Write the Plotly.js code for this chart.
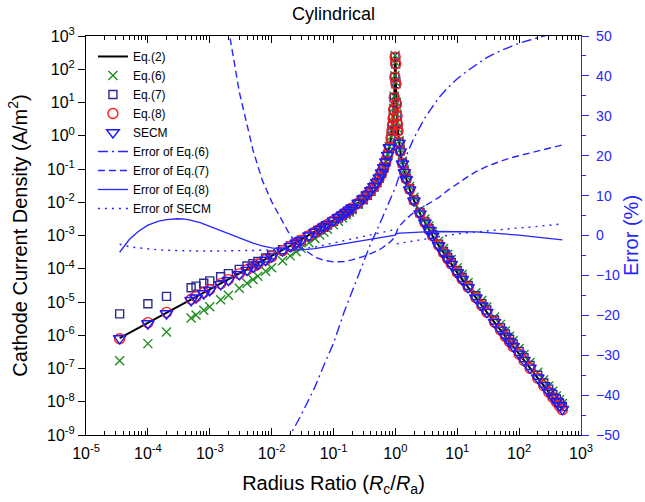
<!DOCTYPE html>
<html>
<head>
<meta charset="utf-8">
<script src="https://cdn.plot.ly/plotly-3.0.1.min.js"></script>
<style>html,body{margin:0;padding:0;background:#fff;}#chart{width:645px;height:502px;}</style>
</head>
<body>
<div id="chart"></div>
<script>
// Radius ratio samples (left branch x<1, right branch x>1)
const xRatio = [3.5e-5,1e-4,2e-4,5e-4,6e-4,8e-4,1e-3,1.5e-3,2e-3,3e-3,4e-3,5e-3,6e-3,8e-3,0.01,0.015,0.02,0.025,0.03,0.04,0.05,0.06,0.07,0.08,0.1,0.12,0.14,0.16,0.18,0.2,0.25,0.3,0.35,0.4,0.45,0.5,0.55,0.6,0.65,0.7,0.75,0.8,0.85,0.88,0.9,0.92,0.94,0.96,0.98,0.99,
  1.01,1.02,1.04,1.06,1.08,1.1,1.15,1.2,1.3,1.4,1.5,1.7,2,2.5,3,3.5,4,5,6,7,8,10,12,15,20,25,30,40,50,60,70,80,100,120,150,200,250,300,350,400,450,500];

// Eq.(2) exact solution
const yEq2 = [8.2e-7,2.34e-6,4.68e-6,1.17e-5,1.40e-5,1.87e-5,2.34e-5,3.52e-5,4.70e-5,7.06e-5,9.43e-5,1.18e-4,1.42e-4,1.90e-4,2.39e-4,3.62e-4,4.87e-4,6.15e-4,7.46e-4,1.02e-3,1.30e-3,1.59e-3,1.89e-3,2.21e-3,2.86e-3,3.55e-3,4.30e-3,5.10e-3,5.95e-3,6.9e-3,9.6e-3,0.0128,0.0170,0.0225,0.030,0.040,0.055,0.077,0.110,0.165,0.26,0.44,0.85,1.40,2.1,3.36,6.1,14.0,57.3,232,
  145,36.2,9.0,3.97,2.22,1.41,0.615,0.341,0.147,0.0805,0.0502,0.0244,0.01127,4.61e-3,2.43e-3,1.47e-3,9.7e-4,5.02e-4,3.0e-4,1.97e-4,1.38e-4,7.67e-5,4.8e-5,2.73e-5,1.33e-5,7.67e-6,4.91e-6,2.44e-6,1.43e-6,9.17e-7,6.33e-7,4.6e-7,2.70e-7,1.75e-7,1.02e-7,5.15e-8,3.03e-8,1.97e-8,1.36e-8,9.9e-9,7.5e-9,5.85e-9];

// Eq.(6)
const yEq6 = [1.72e-7,5.6e-7,1.26e-6,3.28e-6,4.06e-6,5.61e-6,7.25e-6,1.16e-5,1.60e-5,2.61e-5,3.68e-5,4.72e-5,5.96e-5,8.36e-5,1.08e-4,1.74e-4,2.44e-4,3.26e-4,4.10e-4,6.02e-4,8.06e-4,1.03e-3,1.28e-3,1.55e-3,2.09e-3,2.70e-3,3.38e-3,4.18e-3,5.0e-3,5.93e-3,8.69e-3,0.01197,0.01632,0.02205,0.02985,0.0405,0.0565,0.0801,0.1157,0.1754,0.279,0.476,0.927,1.534,2.31,3.71,6.75,15.5,63.9,259,
  163,40.7,10.15,4.49,2.52,1.61,0.707,0.395,0.172,0.0954,0.0602,0.0298,0.01403,5.85e-3,3.15e-3,1.93e-3,1.28e-3,6.75e-4,4.07e-4,2.70e-4,1.90e-4,1.07e-4,6.74e-5,3.87e-5,1.91e-5,1.107e-5,7.12e-6,3.56e-6,2.10e-6,1.35e-6,9.34e-7,6.81e-7,4.01e-7,2.61e-7,1.52e-7,7.73e-8,4.56e-8,2.97e-8,2.06e-8,1.50e-8,1.14e-8,8.92e-9];

// Eq.(7)
const yEq7 = [4.40e-6,8.89e-6,1.48e-5,2.69e-5,3.01e-5,3.65e-5,4.33e-5,5.77e-5,7.14e-5,9.60e-5,1.207e-4,1.43e-4,1.66e-4,2.11e-4,2.59e-4,3.75e-4,4.87e-4,6.06e-4,7.24e-4,9.74e-4,1.23e-3,1.49e-3,1.77e-3,2.07e-3,2.67e-3,3.32e-3,4.02e-3,4.77e-3,5.58e-3,6.48e-3,9.05e-3,0.01212,0.01615,0.02147,0.02874,0.03844,0.0531,0.0745,0.1068,0.1609,0.2543,0.432,0.838,1.383,2.08,3.33,6.06,13.93,57.1,231.5,
  145.7,36.45,9.08,4.01,2.25,1.435,0.629,0.350,0.1519,0.0836,0.0523,0.0256,0.01192,4.91e-3,2.61e-3,1.59e-3,1.052e-3,5.50e-4,3.30e-4,2.19e-4,1.546e-4,8.67e-5,5.46e-5,3.13e-5,1.543e-5,8.95e-6,5.76e-6,2.88e-6,1.696e-6,1.091e-6,7.56e-7,5.50e-7,3.24e-7,2.107e-7,1.231e-7,6.24e-8,3.68e-8,2.40e-8,1.66e-8,1.211e-8,9.19e-9,7.18e-9];

// Eq.(8)
const yEq8 = [7.86e-7,2.40e-6,4.87e-6,1.21e-5,1.45e-5,1.93e-5,2.39e-5,3.56e-5,4.72e-5,7.01e-5,9.30e-5,1.158e-4,1.387e-4,1.847e-4,2.316e-4,3.50e-4,4.69e-4,5.93e-4,7.19e-4,9.84e-4,1.257e-3,1.541e-3,1.835e-3,2.148e-3,2.79e-3,3.47e-3,4.21e-3,5.0e-3,5.84e-3,6.79e-3,9.48e-3,0.01266,0.01683,0.02232,0.02979,0.03976,0.05473,0.0767,0.1097,0.1646,0.2595,0.4396,0.85,1.40,2.1,3.36,6.1,14.0,57.3,232,
  145.7,36.4,9.04,3.99,2.23,1.418,0.619,0.343,0.148,0.0811,0.0506,0.0246,0.01136,4.65e-3,2.452e-3,1.484e-3,9.8e-4,5.07e-4,3.03e-4,1.99e-4,1.394e-4,7.75e-5,4.85e-5,2.76e-5,1.342e-5,7.73e-6,4.94e-6,2.45e-6,1.437e-6,9.2e-7,6.34e-7,4.6e-7,2.70e-7,1.746e-7,1.018e-7,5.13e-8,3.01e-8,1.956e-8,1.35e-8,9.8e-9,7.42e-9,5.79e-9];

// SECM (no samples very close to the singularity)
const xSECM = [3.5e-5,1e-4,2e-4,5e-4,6e-4,8e-4,1e-3,1.5e-3,2e-3,3e-3,4e-3,5e-3,6e-3,8e-3,0.01,0.015,0.02,0.025,0.03,0.04,0.05,0.06,0.07,0.08,0.1,0.12,0.14,0.16,0.18,0.2,0.25,0.3,0.35,0.4,0.45,0.5,0.55,0.6,0.65,0.7,0.75,0.8,
  1.15,1.2,1.3,1.4,1.5,1.7,2,2.5,3,3.5,4,5,6,7,8,10,12,15,20,25,30,40,50,60,70,80,100,120,150,200,250,300,350,400,450,500];
const ySECM = [8.02e-7,2.26e-6,4.51e-6,1.124e-5,1.345e-5,1.797e-5,2.249e-5,3.38e-5,4.52e-5,6.78e-5,9.07e-5,1.135e-4,1.366e-4,1.829e-4,2.30e-4,3.49e-4,4.70e-4,5.94e-4,7.21e-4,9.87e-4,1.262e-3,1.545e-3,1.84e-3,2.155e-3,2.80e-3,3.48e-3,4.22e-3,5.01e-3,5.88e-3,6.82e-3,9.5e-3,0.01271,0.01692,0.02245,0.02997,0.0400,0.0551,0.0772,0.1104,0.166,0.2615,0.4430,
  0.602,0.334,0.1441,0.0790,0.0493,0.0240,0.01112,4.56e-3,2.41e-3,1.459e-3,9.64e-4,5.0e-4,2.995e-4,1.968e-4,1.38e-4,7.70e-5,4.82e-5,2.75e-5,1.342e-5,7.75e-6,4.97e-6,2.476e-6,1.451e-6,9.32e-7,6.44e-7,4.68e-7,2.75e-7,1.785e-7,1.042e-7,5.27e-8,3.10e-8,2.018e-8,1.394e-8,1.015e-8,7.70e-9,6.02e-9];

// Relative errors (%)
const xErr = [3.5e-5,5e-5,7e-5,1e-4,1.5e-4,2e-4,3e-4,4e-4,5e-4,7e-4,1e-3,1.5e-3,2e-3,3e-3,5e-3,7e-3,0.01,0.015,0.02,0.03,0.05,0.07,0.1,0.15,0.2,0.3,0.4,0.5,0.6,0.7,0.8,0.9,0.95,0.99,
  1.01,1.05,1.1,1.2,1.5,2,3,5,7,10,15,20,30,50,70,100,150,200,300,500];
const errEq6 = [-79,-78,-77,-76,-74.5,-73,-72,-71.5,-71,-70,-68,-66.5,-65,-63,-60,-57.5,-55,-52,-50,-45,-38,-32.5,-27,-19,-14,-6.5,-2,1.2,4,6.3,8.2,10,11,11.8,
  12.2,13,14,15.8,20,24.5,29.5,34.5,37,39.3,41.4,42.8,44.6,46.3,47.3,48.2,49.0,49.5,50.2,51.3];
const errEq7 = [437,400,340,280,240,216,180,155,130,105,85,64,52,36,21.4,14,8.5,3.5,0,-3,-5.4,-6.2,-6.6,-6.5,-6.1,-5.3,-4.6,-3.9,-3.2,-2.5,-1.8,-1.0,-0.6,-0.2,
  0.2,1.2,1.8,2.6,4.2,5.8,7.4,9.5,11.3,13,14.8,16,17.3,18.6,19.4,20,20.7,21.1,21.8,22.7];
const errEq8 = [-4.2,-1.0,1.0,2.6,3.6,4.0,4.2,4.1,3.8,3.2,2.3,1.2,0.4,-0.7,-1.9,-2.6,-3.1,-3.4,-3.6,-3.6,-3.3,-2.9,-2.5,-2.0,-1.6,-1.1,-0.8,-0.6,-0.4,-0.25,-0.1,0.0,0.05,0.1,
  0.4,0.5,0.55,0.6,0.7,0.8,0.9,1.0,1.0,1.0,0.95,0.9,0.7,0.5,0.3,0.1,-0.2,-0.4,-0.7,-1.1];
const errSECM = [-2.2,-2.8,-3.1,-3.4,-3.6,-3.7,-3.8,-3.85,-3.9,-3.9,-3.9,-3.9,-3.85,-3.8,-3.75,-3.7,-3.6,-3.5,-3.45,-3.3,-2.9,-2.4,-1.8,-1.3,-0.9,-0.3,0.1,0.4,0.7,0.9,1.1,1.3,1.4,1.5,
  null,-2.1,-2.0,-1.9,-1.7,-1.3,-0.9,-0.3,0.1,0.4,0.7,0.9,1.2,1.5,1.7,1.9,2.1,2.3,2.6,2.9];

// Tick labels
const xTickVals = [1e-5,1e-4,1e-3,1e-2,1e-1,1,10,100,1000];
const xTickText = ['10<sup>-5</sup>','10<sup>-4</sup>','10<sup>-3</sup>','10<sup>-2</sup>','10<sup>-1</sup>','10<sup>0</sup>','10<sup>1</sup>','10<sup>2</sup>','10<sup>3</sup>'];
const yTickVals = [1e-9,1e-8,1e-7,1e-6,1e-5,1e-4,1e-3,1e-2,1e-1,1,10,100,1000];
const yTickText = ['10<sup>-9</sup>','10<sup>-8</sup>','10<sup>-7</sup>','10<sup>-6</sup>','10<sup>-5</sup>','10<sup>-4</sup>','10<sup>-3</sup>','10<sup>-2</sup>','10<sup>-1</sup>','10<sup>0</sup>','10<sup>1</sup>','10<sup>2</sup>','10<sup>3</sup>'];

const FONT = 'Liberation Sans, Arial, Helvetica, sans-serif';
const BLUE = '#2626ff';

const traces = [
  {x: xRatio, y: yEq2, name: 'Eq.(2)', mode: 'lines', line: {color: '#000', width: 2}},
  {x: xRatio, y: yEq6, name: 'Eq.(6)', mode: 'markers', marker: {symbol: 'x-thin-open', size: 9, color: '#1e8c1e', line: {color: '#1e8c1e', width: 1.4}}},
  {x: xRatio, y: yEq7, name: 'Eq.(7)', mode: 'markers', marker: {symbol: 'square-open', size: 8, color: '#2b2b8f', line: {color: '#2b2b8f', width: 1.4}}},
  {x: xRatio, y: yEq8, name: 'Eq.(8)', mode: 'markers', marker: {symbol: 'circle-open', size: 10, color: '#ff1a1a', line: {color: '#ff1a1a', width: 1.4}}},
  {x: xSECM, y: ySECM, name: 'SECM', mode: 'markers', marker: {symbol: 'triangle-down-open', size: 11, color: '#1a1aff', line: {color: '#1a1aff', width: 1.4}}},
  {x: xErr, y: errEq6, name: 'Error of Eq.(6)', mode: 'lines', yaxis: 'y2', line: {color: BLUE, width: 1.4, dash: '10px,4px,2px,4px'}},
  {x: xErr, y: errEq7, name: 'Error of Eq.(7)', mode: 'lines', yaxis: 'y2', line: {color: BLUE, width: 1.4, dash: '7px,4px'}},
  {x: xErr, y: errEq8, name: 'Error of Eq.(8)', mode: 'lines', yaxis: 'y2', line: {color: BLUE, width: 1.3}},
  {x: xErr, y: errSECM, name: 'Error of SECM', mode: 'lines', yaxis: 'y2', line: {color: BLUE, width: 1.4, dash: '2px,5px'}}
];

const layout = {
  width: 645, height: 502,
  margin: {l: 86, r: 64, t: 36, b: 67},
  paper_bgcolor: '#fff', plot_bgcolor: '#fff',
  font: {family: FONT, size: 13, color: '#000'},
  title: {text: 'Cylindrical', font: {family: FONT, size: 18, color: '#000'}, x: 0.517, xanchor: 'center', y: 0.972, yanchor: 'middle', yref: 'container'},
  showlegend: true,
  legend: {x: 0.014, y: 0.985, xanchor: 'left', yanchor: 'top', bgcolor: 'rgba(0,0,0,0)', font: {family: FONT, size: 12, color: '#000'}, itemwidth: 30, tracegroupgap: 0},
  xaxis: {
    type: 'log', range: [-5, 3], tickmode: 'array', tickvals: xTickVals, ticktext: xTickText,
    showline: true, linecolor: '#000', linewidth: 1, mirror: 'ticks',
    ticks: 'inside', ticklen: 7, tickcolor: '#000', showgrid: false, zeroline: false,
    minor: {ticks: 'inside', ticklen: 4, tickcolor: '#000', dtick: 'D1', showgrid: false},
    tickfont: {family: FONT, size: 16}, ticklabelstandoff: 4,
    title: {text: 'Radius Ratio (<i>R</i><sub>c</sub>/<i>R</i><sub>a</sub>)', font: {family: FONT, size: 20}, standoff: 14}
  },
  yaxis: {
    type: 'log', range: [-9, 3], tickmode: 'array', tickvals: yTickVals, ticktext: yTickText,
    showline: true, linecolor: '#000', linewidth: 1,
    ticks: 'outside', ticklen: 7, tickcolor: '#000', showgrid: false, zeroline: false,
    tickfont: {family: FONT, size: 16},
    title: {text: 'Cathode Current Density (A/m<sup>2</sup>)', font: {family: FONT, size: 20}, standoff: 14}
  },
  yaxis2: {
    overlaying: 'y', side: 'right', anchor: 'x', range: [-50, 50], dtick: 10,
    showline: true, linecolor: BLUE, linewidth: 1.3,
    ticks: 'outside', ticklen: 7, tickcolor: BLUE, showgrid: false, zeroline: false,
    minor: {ticks: 'outside', ticklen: 4, tickcolor: BLUE, dtick: 5, showgrid: false},
    tickfont: {family: FONT, size: 14, color: BLUE}, ticklabelstandoff: 4,
    title: {text: 'Error (%)', font: {family: FONT, size: 20, color: BLUE}, standoff: 4}
  }
};

Plotly.newPlot('chart', traces, layout, {displayModeBar: false, staticPlot: true});
</script>
</body>
</html>
